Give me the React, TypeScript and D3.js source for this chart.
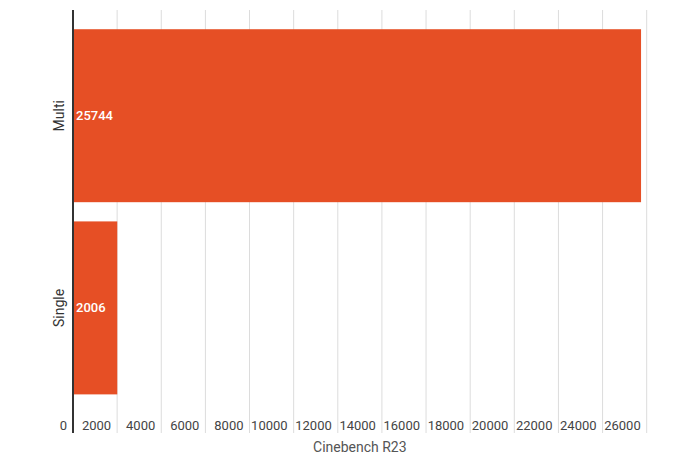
import React from 'react';
import * as d3 from 'd3';

const categories = ['Multi', 'Single'];
const scores = [25744, 2006];
const tickValues = [0, 2000, 4000, 6000, 8000, 10000, 12000, 14000, 16000, 18000, 20000, 22000, 24000, 26000];
const axisTitle = 'Cinebench R23';

const BAR_COLOR = '#e64f25';
const FONT = 'Roboto, "Noto Sans", sans-serif';

export default function App() {
  const width = 695;
  const height = 471;
  const left = 73;
  const right = 646.7;
  const top = 10;
  const plotBottom = 413.6;
  const gridBottom = 433;

  const x = d3.scaleLinear().domain([0, 26000]).range([left, right]);
  const y = d3.scaleBand<string>()
    .domain(categories)
    .range([top, plotBottom])
    .paddingInner(0.1)
    .paddingOuter(0.1);

  return (
    <svg width={width} height={height} style={{ position: 'absolute', left: 0, top: 0, background: '#fff' }}>
      {/* gridlines */}
      {tickValues.filter(v => v > 0).map(v => (
        <line key={v} x1={x(v)} x2={x(v)} y1={top} y2={gridBottom} stroke="#dcdcdc" strokeWidth={1} />
      ))}

      {/* bars */}
      {categories.map((c, i) => (
        <rect
          key={c}
          x={x(0)}
          y={y(c)}
          width={x(scores[i]) - x(0)}
          height={y.bandwidth()}
          fill={BAR_COLOR}
        />
      ))}

      {/* value labels inside bars */}
      {categories.map((c, i) => (
        <text
          key={c}
          x={x(0) + 3}
          y={(y(c) ?? 0) + y.bandwidth() / 2}
          dy="0.35em"
          fill="#fff"
          fontSize={13}
          fontWeight={500}
          fontFamily={FONT}
        >
          {scores[i]}
        </text>
      ))}

      {/* category labels */}
      {categories.map(c => (
        <text
          key={c}
          transform={`translate(64,${(y(c) ?? 0) + y.bandwidth() / 2}) rotate(-90)`}
          textAnchor="middle"
          fill="#333"
          fontSize={14}
          fontFamily={FONT}
        >
          {c}
        </text>
      ))}

      {/* tick labels, drawn just left of each gridline */}
      {tickValues.map(v => (
        <text
          key={v}
          x={x(v) - 6}
          y={430}
          textAnchor="end"
          fill="#444"
          fontSize={13}
          fontFamily={FONT}
        >
          {v}
        </text>
      ))}

      {/* axis line */}
      <line x1={left} x2={left} y1={top} y2={gridBottom} stroke="#333" strokeWidth={2} />

      <text
        x={(left + right) / 2}
        y={452}
        textAnchor="middle"
        fill="#555"
        fontSize={14}
        fontFamily={FONT}
      >
        {axisTitle}
      </text>
    </svg>
  );
}
